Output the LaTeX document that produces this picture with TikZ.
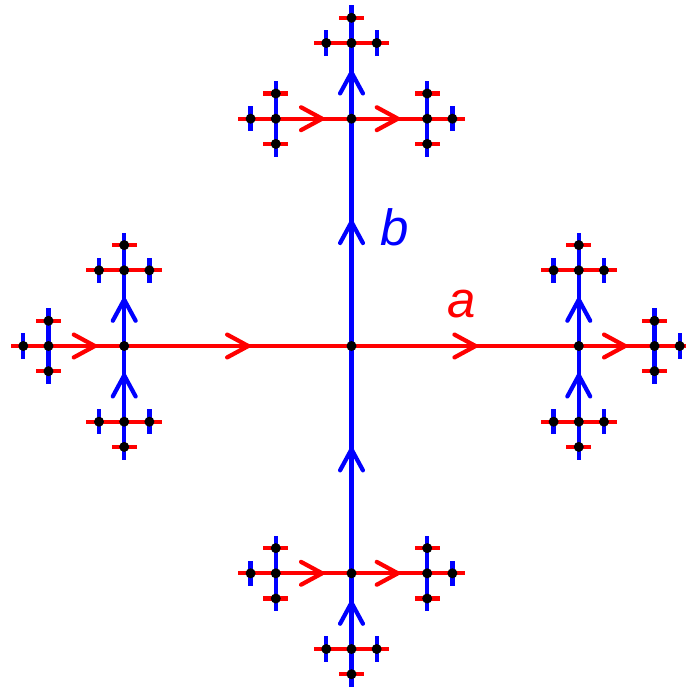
\documentclass[tikz,border=0pt]{standalone}
\usepackage{fontspec}
\setmainfont{Liberation Sans}
\usetikzlibrary{arrows.meta, calc, backgrounds, decorations.markings}

% generator / inverse / direction / colour / points forward?
\def\gens{a/A/1/0/red/1, A/a/-1/0/red/0, b/B/0/-1/blue/1, B/b/0/1/blue/0}
\newcommand{\unlessback}[3]{\edef\genA{#1}\edef\genB{#2}\ifx\genA\genB\else#3\fi}

\tikzset{
  vertex/.style={circle, fill=black, inner sep=0pt, minimum size=0.2cm},
  genline/.style={draw=#1, line width=2.4pt},
  midarrow/.style={postaction={decorate, decoration={markings,
      mark=at position #1 with {\arrow{Straight Barb[length=12pt, width=13pt, round]}}}}},
  lbl/.style={font=\fontsize{29}{32}\selectfont\itshape, inner sep=0pt}
}

\begin{document}
\begin{tikzpicture}[x=0.02cm, y=-0.02cm]
    \useasboundingbox (0,0) rectangle (686,690);

    % Vertices
    \node[vertex] (e) at (351.5,346) {};
    \foreach \g/\gi/\gx/\gy/\gc/\gs in \gens {
      \node[vertex] (\g) at ($(e)+(227.3*\gx,227.3*\gy)$) {};
      \foreach \h/\hi/\hx/\hy/\hc/\hs in \gens {
        \unlessback{\h}{\gi}{%
          \node[vertex] (\g\h) at ($(\g)+(75.7*\hx,75.7*\hy)$) {};
          \foreach \k/\ki/\kx/\ky/\kc/\ks in \gens {
            \unlessback{\k}{\hi}{%
              \node[vertex] (\g\h\k) at ($(\g\h)+(25.2*\kx,25.2*\ky)$) {};
            }
          }
        }
      }
    }

    % Edges, under the vertices
    \begin{scope}[on background layer]
      \foreach \g/\gi/\gx/\gy/\gc/\gs in \gens {
        \ifnum\gs=1
          \draw[genline=\gc, midarrow=0.555] (e.center) -- (\g.center);
        \else
          \draw[genline=\gc, midarrow=0.555] (\g.center) -- (e.center);
        \fi
        \foreach \h/\hi/\hx/\hy/\hc/\hs in \gens {
          \unlessback{\h}{\gi}{%
            \ifnum\hs=1
              \draw[genline=\hc, midarrow=0.64] (\g.center) -- (\g\h.center);
            \else
              \draw[genline=\hc, midarrow=0.64] (\g\h.center) -- (\g.center);
            \fi
            \foreach \k/\ki/\kx/\ky/\kc/\ks in \gens {
              \unlessback{\k}{\hi}{%
                \draw[genline=\kc] (\g\h.center) -- (\g\h\k.center);
                % stubs of the next ring
                \foreach \m/\mi/\mx/\my/\mc/\ms in \gens {
                  \unlessback{\m}{\ki}{%
                    \coordinate (\g\h\k\m) at ($(\g\h\k)+(12.6*\mx,12.6*\my)$);
                    \draw[genline=\mc] (\g\h\k.center) -- (\g\h\k\m);
                  }
                }
              }
            }
          }
        }
      }
    \end{scope}

    % Labels
    \node[lbl, text=blue] (blabel) at (394.5,227.5) {b};
    \node[lbl, text=red]  (alabel) at (461.5,304.5) {a};
\end{tikzpicture}
\end{document}
